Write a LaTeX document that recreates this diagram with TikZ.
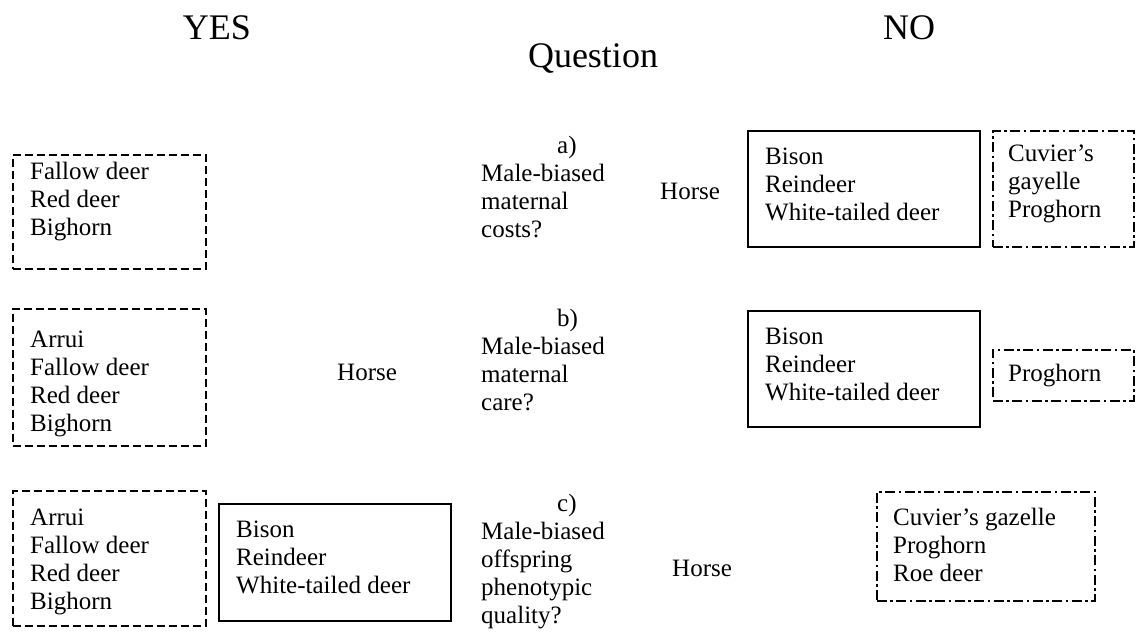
\documentclass[tikz,border=0pt]{standalone}
\usepackage{fontspec}
\setmainfont{Liberation Serif}
\tikzset{
  body/.style={font=\fontsize{25}{28}\selectfont, align=left, inner sep=0pt},
  head/.style={font=\fontsize{36}{40}\selectfont, inner sep=0pt},
  boxbase/.style={inner sep=0pt, anchor=north west},
  dashbox/.style={boxbase, draw, line width=1.8pt, dash pattern=on 8pt off 4pt},
  dotdashbox/.style={boxbase, draw, line width=1.8pt, dash pattern=on 10pt off 3.5pt on 2.5pt off 3.5pt},
  solidbox/.style={boxbase, draw, line width=2pt},
}
\begin{document}
\begin{tikzpicture}[x=1pt,y=-1pt]
\useasboundingbox (0,0) rectangle (1136,634);
% headings
\node[head, anchor=base] (yes) at (217,40) {YES};
\node[head, anchor=base] (no) at (909,40) {NO};
\node[head, anchor=base] (question) at (593,67) {Question};

% row a
\node[dashbox, minimum width=193pt, minimum height=114pt] (yesa) at (12,154) {};
\node[body, anchor=north west] (yesatext) at (30,162) {Fallow deer\\Red deer\\Bighorn};
\node[body, anchor=north west] (qa) at (481,136) {\hspace*{76pt}a)\\Male-biased\\maternal\\costs?};
\node[body, anchor=base west] (horsea) at (660,199) {Horse};
\node[solidbox, minimum width=232pt, minimum height=116pt] (noa) at (747,130) {};
\node[body, anchor=west] (noatext) at (765,184) {Bison\\Reindeer\\White-tailed deer};
\node[dotdashbox, minimum width=141pt, minimum height=116pt] (noa2) at (992,130) {};
\node[body, anchor=west] (noa2text) at (1008,184) {Cuvier’s\\gayelle\\Proghorn};

% row b
\node[dashbox, minimum width=193pt, minimum height=137pt] (yesb) at (12,308) {};
\node[body, anchor=north west] (yesbtext) at (30,331) {Arrui\\Fallow deer\\Red deer\\Bighorn};
\node[body, anchor=base west] (horseb) at (337,380) {Horse};
\node[body, anchor=north west] (qb) at (481,309) {\hspace*{76pt}b)\\Male-biased\\maternal\\care?};
\node[solidbox, minimum width=232pt, minimum height=116pt] (nob) at (747,310) {};
\node[body, anchor=west] (nobtext) at (765,364) {Bison\\Reindeer\\White-tailed deer};
\node[dotdashbox, minimum width=141pt, minimum height=51pt] (nob2) at (992,349) {};
\node[body, anchor=west] (nob2text) at (1008,376) {Proghorn};

% row c
\node[dashbox, minimum width=193pt, minimum height=135pt] (yesc) at (12,490) {};
\node[body, anchor=north west] (yesctext) at (30,509) {Arrui\\Fallow deer\\Red deer\\Bighorn};
\node[solidbox, minimum width=232pt, minimum height=117pt] (yesc2) at (218,503) {};
\node[body, anchor=west] (yesc2text) at (236,557) {Bison\\Reindeer\\White-tailed deer};
\node[body, anchor=north west] (qc) at (481,494) {\hspace*{76pt}c)\\Male-biased\\offspring\\phenotypic\\quality?};
\node[body, anchor=base west] (horsec) at (672,576) {Horse};
\node[dotdashbox, minimum width=218pt, minimum height=109pt] (noc) at (876,491) {};
\node[body, anchor=west] (noctext) at (893,545) {Cuvier’s gazelle\\Proghorn\\Roe deer};
\end{tikzpicture}
\end{document}
